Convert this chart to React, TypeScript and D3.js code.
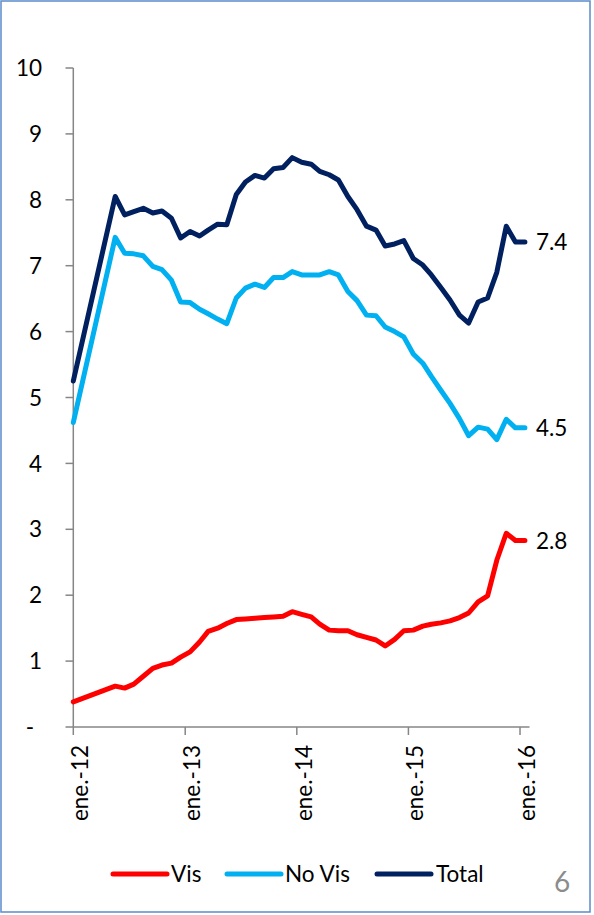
import React from "react";
import * as d3 from "d3";

// x categories: first observation Jan-2012, then monthly May-2012 .. Jan-2016
const firstDate = new Date(2012, 0, 1);
const monthlyDates = d3.timeMonth.range(new Date(2012, 4, 1), new Date(2016, 1, 1)).map(
  (d) => new Date(d.getFullYear(), d.getMonth(), 17)
);
const dates: Date[] = [firstDate, ...monthlyDates];

const visValues = [
  0.38, 0.62, 0.59, 0.65, 0.77, 0.89, 0.94, 0.97, 1.06, 1.14, 1.29, 1.45, 1.5, 1.57,
  1.63, 1.64, 1.65, 1.66, 1.67, 1.68, 1.75, 1.71, 1.67, 1.56, 1.47, 1.46, 1.46, 1.4,
  1.36, 1.32, 1.23, 1.33, 1.46, 1.47, 1.53, 1.56, 1.58, 1.61, 1.66, 1.73, 1.9, 1.99,
  2.53, 2.94, 2.83, 2.83,
];
const noVisValues = [
  4.62, 7.43, 7.19, 7.18, 7.15, 6.99, 6.94, 6.78, 6.45, 6.44, 6.34, 6.27, 6.19, 6.12,
  6.51, 6.66, 6.72, 6.67, 6.82, 6.82, 6.91, 6.86, 6.86, 6.86, 6.91, 6.86, 6.61, 6.47,
  6.25, 6.24, 6.07, 6.0, 5.92, 5.66, 5.52, 5.32, 5.11, 4.91, 4.68, 4.42, 4.55, 4.52,
  4.36, 4.67, 4.54, 4.54,
];
const totalValues = [
  5.25, 8.05, 7.77, 7.82, 7.87, 7.8, 7.83, 7.72, 7.42, 7.52, 7.45, 7.54, 7.63, 7.62,
  8.08, 8.27, 8.37, 8.33, 8.47, 8.49, 8.64, 8.57, 8.54, 8.43, 8.38, 8.3, 8.05, 7.85,
  7.6, 7.54, 7.3, 7.33, 7.38, 7.11, 7.01, 6.86, 6.67, 6.48, 6.25, 6.13, 6.45, 6.51,
  6.9, 7.6, 7.36, 7.36,
];

const seriesNames = ["Vis", "No Vis", "Total"];
const seriesColors = ["#FF0000", "#00B0F0", "#002060"];
const seriesData = [visValues, noVisValues, totalValues];
const endLabels = ["2.8", "4.5", "7.4"];

const yTicks = [0, 1, 2, 3, 4, 5, 6, 7, 8, 9, 10];
const yTickLabels = ["-", "1", "2", "3", "4", "5", "6", "7", "8", "9", "10"];
const xTickDates = [2012, 2013, 2014, 2015, 2016].map((y) => new Date(y, 0, 1));
const xTickLabels = ["ene.-12", "ene.-13", "ene.-14", "ene.-15", "ene.-16"];
const pageNumber = "6";

const FONT = "Lato, 'Open Sans', sans-serif";

export default function App() {
  const W = 594;
  const H = 915;
  const x = d3
    .scaleTime()
    .domain([new Date(2012, 0, 1), new Date(2016, 1, 1)])
    .range([73.3, 529.5]);
  const y = d3.scaleLinear().domain([0, 10]).range([727, 68]);
  const axisColor = "#868686";

  const line = d3
    .line<number>()
    .x((_, i) => x(dates[i]))
    .y((v) => y(v));

  const legendItems = [
    { x1: 113, x2: 167, tx: 171 },
    { x1: 227, x2: 281, tx: 285 },
    { x1: 377, x2: 431, tx: 436 },
  ];
  const legendY = 874;

  return (
    <svg
      width={W}
      height={H}
      style={{ position: "absolute", left: 0, top: 0, background: "#fff" }}
    >
      <rect x={1} y={1} width={589} height={911} fill="#fff" stroke="#5B8BC9" strokeWidth={1.5} />

      {/* Y axis */}
      <line x1={x.range()[0]} x2={x.range()[0]} y1={y(10)} y2={y(0)} stroke={axisColor} strokeWidth={1.5} />
      {yTicks.map((t, i) => (
        <g key={t}>
          <line x1={65.5} x2={73.3} y1={y(t)} y2={y(t)} stroke={axisColor} strokeWidth={1.5} />
          <text
            x={t === 0 ? 34 : 42}
            y={y(t)}
            dy="0.36em"
            textAnchor="end"
            fontFamily={FONT}
            fontSize={22.5}
            fill="#000"
          >
            {yTickLabels[i]}
          </text>
        </g>
      ))}

      {/* X axis */}
      <line x1={x.range()[0]} x2={x.range()[1]} y1={y(0)} y2={y(0)} stroke={axisColor} strokeWidth={1.5} />
      {xTickDates.map((d, i) => (
        <g key={i}>
          <line x1={x(d)} x2={x(d)} y1={y(0)} y2={y(0) + 8} stroke={axisColor} strokeWidth={1.5} />
          <text
            transform={`translate(${x(d) + 15},745) rotate(-90)`}
            textAnchor="end"
            fontFamily={FONT}
            fontSize={22.5}
            fill="#000"
          >
            {xTickLabels[i]}
          </text>
        </g>
      ))}

      {/* Series */}
      {seriesData.map((vals, s) => (
        <path
          key={s}
          d={line(vals) || ""}
          fill="none"
          stroke={seriesColors[s]}
          strokeWidth={5}
          strokeLinejoin="round"
          strokeLinecap="round"
        />
      ))}

      {/* End labels */}
      {seriesData.map((vals, s) => (
        <text
          key={s}
          x={536}
          y={y(vals[vals.length - 1])}
          dy="0.36em"
          fontFamily={FONT}
          fontSize={22.5}
          fill="#000"
        >
          {endLabels[s]}
        </text>
      ))}

      {/* Legend */}
      {legendItems.map((it, s) => (
        <g key={s}>
          <line
            x1={it.x1}
            x2={it.x2}
            y1={legendY}
            y2={legendY}
            stroke={seriesColors[s]}
            strokeWidth={5}
            strokeLinecap="round"
          />
          <text x={it.tx} y={legendY} dy="0.36em" fontFamily={FONT} fontSize={22.5} fill="#000">
            {seriesNames[s]}
          </text>
        </g>
      ))}

      <text x={554} y={882} dy="0.36em" fontFamily={FONT} fontSize={28} fill="#8C8C8C">
        {pageNumber}
      </text>
    </svg>
  );
}
